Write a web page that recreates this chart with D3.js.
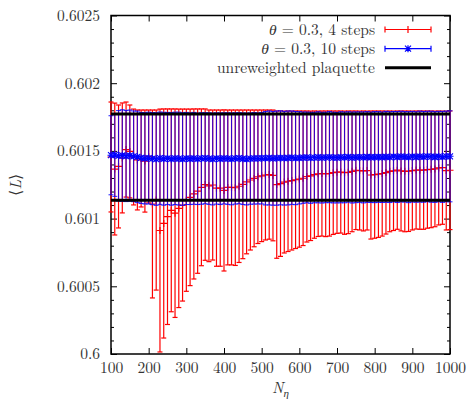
<!DOCTYPE html>
<html>
<head>
<meta charset="utf-8">
<script src="https://cdn.jsdelivr.net/npm/d3@7"></script>
<style>
body { margin: 0; background: #fff; }
.axis .domain { display: none; }
.axis line { stroke: #000; stroke-width: 1; }
</style>
</head>
<body>
<script>
// N_eta values (x)
var nEta = [100, 110, 120, 130, 140, 150, 160, 170, 180, 190,
    200, 210, 220, 230, 240, 250, 260, 270, 280, 290,
    300, 310, 320, 330, 340, 350, 360, 370, 380, 390,
    400, 410, 420, 430, 440, 450, 460, 470, 480, 490,
    500, 510, 520, 530, 540, 550, 560, 570, 580, 590,
    600, 610, 620, 630, 640, 650, 660, 670, 680, 690,
    700, 710, 720, 730, 740, 750, 760, 770, 780, 790,
    800, 810, 820, 830, 840, 850, 860, 870, 880, 890,
    900, 910, 920, 930, 940, 950, 960, 970, 980, 990, 1000];

// theta = 0.3, 4 steps
var redMean = [0.601455, 0.601366, 0.601385, 0.601448, 0.601510, 0.601496, 0.601455, 0.601433, 0.601444, 0.601425,
    0.601459, 0.601108, 0.601137, 0.600912, 0.600964, 0.601014, 0.601061, 0.601040, 0.601076, 0.601100,
    0.601136, 0.601157, 0.601182, 0.601203, 0.601231, 0.601251, 0.601242, 0.601248, 0.601225, 0.601225,
    0.601208, 0.601230, 0.601230, 0.601228, 0.601239, 0.601253, 0.601271, 0.601285, 0.601297, 0.601309,
    0.601316, 0.601322, 0.601325, 0.601319, 0.601251, 0.601258, 0.601270, 0.601276, 0.601281, 0.601287,
    0.601292, 0.601298, 0.601311, 0.601316, 0.601325, 0.601331, 0.601333, 0.601331, 0.601333, 0.601339,
    0.601343, 0.601344, 0.601339, 0.601342, 0.601349, 0.601357, 0.601355, 0.601352, 0.601355, 0.601322,
    0.601325, 0.601328, 0.601333, 0.601340, 0.601349, 0.601353, 0.601358, 0.601352, 0.601349, 0.601350,
    0.601355, 0.601359, 0.601358, 0.601358, 0.601362, 0.601364, 0.601367, 0.601374, 0.601376, 0.601355, 0.601357];
var redErr = [0.000406, 0.000487, 0.000454, 0.000406, 0.000351, 0.000343, 0.000354, 0.000369, 0.000358, 0.000377,
    0.000343, 0.000694, 0.000665, 0.000897, 0.000846, 0.000796, 0.000749, 0.000770, 0.000733, 0.000709,
    0.000673, 0.000652, 0.000628, 0.000607, 0.000579, 0.000559, 0.000560, 0.000554, 0.000577, 0.000577,
    0.000595, 0.000572, 0.000572, 0.000574, 0.000563, 0.000549, 0.000531, 0.000517, 0.000505, 0.000493,
    0.000486, 0.000480, 0.000477, 0.000483, 0.000544, 0.000537, 0.000524, 0.000519, 0.000513, 0.000508,
    0.000503, 0.000497, 0.000484, 0.000478, 0.000470, 0.000463, 0.000462, 0.000464, 0.000462, 0.000456,
    0.000452, 0.000451, 0.000455, 0.000453, 0.000446, 0.000438, 0.000439, 0.000443, 0.000439, 0.000473,
    0.000470, 0.000467, 0.000462, 0.000454, 0.000446, 0.000441, 0.000437, 0.000443, 0.000446, 0.000445,
    0.000439, 0.000436, 0.000437, 0.000437, 0.000433, 0.000431, 0.000427, 0.000421, 0.000418, 0.000439, 0.000438];

// theta = 0.3, 10 steps
var blueMean = [0.601468, 0.601470, 0.601464, 0.601466, 0.601462, 0.601465, 0.601460, 0.601456, 0.601448, 0.601445,
    0.601447, 0.601443, 0.601440, 0.601446, 0.601442, 0.601444, 0.601441, 0.601445, 0.601443, 0.601440,
    0.601444, 0.601442, 0.601445, 0.601441, 0.601444, 0.601446, 0.601443, 0.601440, 0.601444, 0.601442,
    0.601445, 0.601443, 0.601441, 0.601444, 0.601446, 0.601442, 0.601440, 0.601443, 0.601445, 0.601444,
    0.601446, 0.601446, 0.601448, 0.601445, 0.601447, 0.601449, 0.601446, 0.601448, 0.601450, 0.601447,
    0.601449, 0.601450, 0.601452, 0.601449, 0.601451, 0.601453, 0.601450, 0.601452, 0.601454, 0.601451,
    0.601450, 0.601453, 0.601452, 0.601455, 0.601451, 0.601453, 0.601454, 0.601452, 0.601455, 0.601453,
    0.601454, 0.601455, 0.601453, 0.601456, 0.601454, 0.601457, 0.601455, 0.601458, 0.601456, 0.601454,
    0.601457, 0.601455, 0.601458, 0.601456, 0.601459, 0.601457, 0.601455, 0.601458, 0.601456, 0.601459, 0.601460];
var blueErr = [0.000292, 0.000306, 0.000334, 0.000338, 0.000336, 0.000337, 0.000335, 0.000338, 0.000336, 0.000337,
    0.000339, 0.000340, 0.000342, 0.000341, 0.000343, 0.000340, 0.000342, 0.000341, 0.000343, 0.000342,
    0.000340, 0.000338, 0.000339, 0.000337, 0.000338, 0.000336, 0.000338, 0.000339, 0.000337, 0.000338,
    0.000336, 0.000338, 0.000339, 0.000337, 0.000336, 0.000338, 0.000339, 0.000337, 0.000338, 0.000336,
    0.000338, 0.000345, 0.000347, 0.000346, 0.000348, 0.000347, 0.000346, 0.000347, 0.000345, 0.000344,
    0.000341, 0.000337, 0.000335, 0.000336, 0.000334, 0.000336, 0.000335, 0.000334, 0.000336, 0.000335,
    0.000334, 0.000336, 0.000335, 0.000334, 0.000336, 0.000335, 0.000334, 0.000336, 0.000335, 0.000334,
    0.000336, 0.000335, 0.000334, 0.000336, 0.000335, 0.000334, 0.000336, 0.000335, 0.000334, 0.000336,
    0.000335, 0.000334, 0.000336, 0.000335, 0.000334, 0.000336, 0.000335, 0.000334, 0.000336, 0.000335, 0.000336];

// unreweighted plaquette (mean +- error band)
var plaqMean = 0.601454;
var plaqErr = 0.000319;

var xTicks = [100, 200, 300, 400, 500, 600, 700, 800, 900, 1000];
var xTickLabels = ["100", "200", "300", "400", "500", "600", "700", "800", "900", "1000"];
var yTicks = [0.6, 0.6005, 0.601, 0.6015, 0.602, 0.6025];
var yTickLabels = ["0.6", "0.6005", "0.601", "0.6015", "0.602", "0.6025"];

var serif = "'Latin Modern Roman', 'Liberation Serif', serif";
var textColor = "#333";
var fontSize = "15.5px";

var margin = {top: 15.5, right: 22, bottom: 48, left: 111},
    width = 472 - margin.left - margin.right,
    height = 402 - margin.top - margin.bottom;

var root = d3.select("body").append("svg")
    .attr("width", 472)
    .attr("height", 402);

var svg = root.append("g")
    .attr("transform", "translate(" + margin.left + "," + margin.top + ")");

var x = d3.scaleLinear().domain([100, 1000]).range([0, width]);
var y = d3.scaleLinear().domain([0.6, 0.6025]).range([height, 0]);

// minor y ticks every 0.0001
var yMinor = y.ticks(25).filter(function(d) {
    return yTicks.every(function(t) { return Math.abs(t - d) > 1e-9; });
});

function styleText(sel) {
    sel.style("font-family", serif)
        .style("font-size", fontSize)
        .style("fill", textColor);
}

svg.append("g").attr("class", "axis")
    .call(d3.axisLeft(y).tickValues(yTicks).tickSize(-6).tickPadding(11)
        .tickFormat(function(d, i) { return yTickLabels[i]; }))
    .selectAll("text").call(styleText);
svg.append("g").attr("class", "axis")
    .call(d3.axisLeft(y).tickValues(yMinor).tickSize(-3).tickFormat(""));
svg.append("g").attr("class", "axis")
    .attr("transform", "translate(" + width + ",0)")
    .call(d3.axisRight(y).tickValues(yTicks).tickSize(-6).tickFormat(""));
svg.append("g").attr("class", "axis")
    .attr("transform", "translate(" + width + ",0)")
    .call(d3.axisRight(y).tickValues(yMinor).tickSize(-3).tickFormat(""));

svg.append("g").attr("class", "axis")
    .attr("transform", "translate(0," + height + ")")
    .call(d3.axisBottom(x).tickValues(xTicks).tickSize(-6).tickPadding(8)
        .tickFormat(function(d, i) { return xTickLabels[i]; }))
    .selectAll("text").call(styleText);
svg.append("g").attr("class", "axis")
    .call(d3.axisTop(x).tickValues(xTicks).tickSize(-6).tickFormat(""));

svg.append("rect")
    .attr("width", width)
    .attr("height", height)
    .attr("fill", "none")
    .attr("stroke", "#000")
    .attr("stroke-width", 1.5);

var capW = 2.5;
var plusPath = "M-3.5,0H3.5M0,-3.5V3.5";
var starPath = "M-3.5,0H3.5M0,-3.5V3.5M-3,-3L3,3M-3,3L3,-3";

function drawSeries(mean, err, color, strokeW, opacity, marker) {
    var data = nEta.map(function(n, i) { return {n: n, mean: mean[i], err: err[i]}; });
    var g = svg.append("g")
        .attr("stroke", color)
        .attr("stroke-width", strokeW)
        .attr("stroke-opacity", opacity)
        .attr("fill", "none");

    g.selectAll(".bar").data(data).enter()
        .append("line")
        .attr("class", "bar")
        .attr("x1", function(d) { return x(d.n); })
        .attr("x2", function(d) { return x(d.n); })
        .attr("y1", function(d) { return y(d.mean - d.err); })
        .attr("y2", function(d) { return y(d.mean + d.err); });

    g.selectAll(".cap-lo").data(data).enter()
        .append("line")
        .attr("class", "cap-lo")
        .attr("x1", function(d) { return x(d.n) - capW; })
        .attr("x2", function(d) { return x(d.n) + capW; })
        .attr("y1", function(d) { return y(d.mean - d.err); })
        .attr("y2", function(d) { return y(d.mean - d.err); });

    g.selectAll(".cap-hi").data(data).enter()
        .append("line")
        .attr("class", "cap-hi")
        .attr("x1", function(d) { return x(d.n) - capW; })
        .attr("x2", function(d) { return x(d.n) + capW; })
        .attr("y1", function(d) { return y(d.mean + d.err); })
        .attr("y2", function(d) { return y(d.mean + d.err); });

    g.selectAll(".pt").data(data).enter()
        .append("path")
        .attr("class", "pt")
        .attr("stroke-opacity", 1)
        .attr("transform", function(d) { return "translate(" + x(d.n) + "," + y(d.mean) + ")"; })
        .attr("d", marker);
}

drawSeries(redMean, redErr, "#ff0000", 1.2, 1, plusPath);
drawSeries(blueMean, blueErr, "#0000ff", 1.1, 0.8, starPath);

// plaquette band edges
svg.selectAll(".plaq").data([plaqMean + plaqErr, plaqMean - plaqErr]).enter()
    .append("line")
    .attr("class", "plaq")
    .attr("x1", x(100))
    .attr("x2", x(1000))
    .attr("y1", function(d) { return y(d); })
    .attr("y2", function(d) { return y(d); })
    .attr("stroke", "#000")
    .attr("stroke-width", 3);

// axis titles
var xt = root.append("text")
    .attr("x", margin.left + width / 2)
    .attr("y", 393)
    .attr("text-anchor", "middle")
    .call(styleText);
xt.append("tspan").style("font-style", "italic").text("N");
xt.append("tspan").style("font-style", "italic").style("font-size", "11px").attr("dy", 4).text("η");

var yt = root.append("text")
    .attr("transform", "translate(21," + (margin.top + height / 2) + ") rotate(-90)")
    .attr("text-anchor", "middle")
    .call(styleText);
yt.append("tspan").text("⟨");
yt.append("tspan").style("font-style", "italic").text("L");
yt.append("tspan").text("⟩");

// legend
var legendItems = [
    {label: ", 4 steps", color: "#ff0000", marker: plusPath, theta: true, bars: true},
    {label: ", 10 steps", color: "#0000ff", marker: starPath, theta: true, bars: true},
    {label: "unreweighted plaquette", color: "#000", marker: null, theta: false, bars: false}
];
var legendY = [29.5, 48.7, 67.8];

var legend = root.append("g");
legendItems.forEach(function(item, i) {
    var ly = legendY[i];
    var t = legend.append("text")
        .attr("x", 375)
        .attr("y", ly)
        .attr("dy", "0.35em")
        .attr("text-anchor", "end")
        .call(styleText);
    if (item.theta) {
        t.append("tspan").style("font-style", "italic").text("θ");
        t.append("tspan").text(" = 0.3" + item.label);
    } else {
        t.text(item.label);
    }
    var lg = legend.append("g")
        .attr("stroke", item.color)
        .attr("fill", "none")
        .attr("stroke-width", item.bars ? 1.2 : 3);
    lg.append("line").attr("x1", 385).attr("x2", 431).attr("y1", ly).attr("y2", ly);
    if (item.bars) {
        lg.append("line").attr("x1", 385).attr("x2", 385).attr("y1", ly - 3).attr("y2", ly + 3);
        lg.append("line").attr("x1", 431).attr("x2", 431).attr("y1", ly - 3).attr("y2", ly + 3);
        lg.append("path").attr("transform", "translate(408," + ly + ")").attr("d", item.marker);
    }
});
</script>
</body>
</html>
